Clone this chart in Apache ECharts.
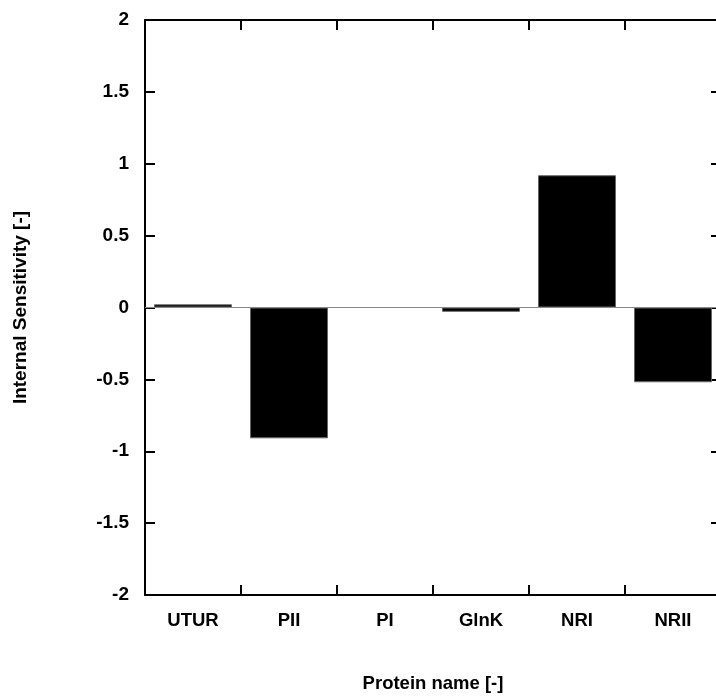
<!DOCTYPE html>
<html>
<head>
<meta charset="utf-8">
<script src="https://cdn.jsdelivr.net/npm/echarts@6/dist/echarts.min.js"></script>
<style>html,body{margin:0;padding:0;background:#fff;}#c{width:716px;height:699px;}</style>
</head>
<body>
<div id="c"></div>
<script>
var categories = ['UTUR', 'PII', 'PI', 'GlnK', 'NRI', 'NRII'];
var sensitivity = [0.022, -0.91, 0.0, -0.03, 0.92, -0.52];
var yMin = -2, yMax = 2, yStep = 0.5;

var fontFam = '"Liberation Sans", Arial, sans-serif';
function lab(sz){ return {color:'#000', fontFamily:fontFam, fontWeight:'bold', fontSize:sz}; }
var line = {show:true, onZero:false, lineStyle:{color:'#000', width:2}};
var tick = {show:true, inside:true, length:10, lineStyle:{color:'#000', width:2}};

var chart = echarts.init(document.getElementById('c'));
chart.setOption({
  backgroundColor:'#fff',
  animation:false,
  grid:{left:145, top:20, width:576, bottom:104, containLabel:false, outerBoundsMode:'none'},
  xAxis:[{
    type:'category', data:categories, position:'bottom',
    axisLine:line, axisTick:tick,
    axisLabel:Object.assign({margin:16}, lab(18.5)),
    name:'Protein name [-]', nameLocation:'middle', nameGap:79,
    nameTextStyle:lab(18.5)
  },{
    type:'category', data:categories, position:'top',
    axisLine:line, axisTick:tick, axisLabel:{show:false}
  }],
  yAxis:[{
    type:'value', min:yMin, max:yMax, interval:yStep, position:'left',
    axisLine:line, axisTick:tick, splitLine:{show:false},
    axisLabel:Object.assign({margin:16}, lab(19)),
    name:'Internal Sensitivity [-]', nameLocation:'middle', nameGap:115,
    nameTextStyle:lab(19)
  },{
    type:'value', min:yMin, max:yMax, interval:yStep, position:'right',
    axisLine:line, axisTick:tick, splitLine:{show:false}, axisLabel:{show:false}
  }],
  series:[{
    type:'bar', data:sensitivity, barWidth:78,
    itemStyle:{color:'#000', borderColor:'#666', borderWidth:1},
    markLine:{silent:true, symbol:'none', label:{show:false},
      lineStyle:{color:'#888', width:1, type:'solid'},
      data:[{yAxis:0}]}
  }]
});
</script>
</body>
</html>
